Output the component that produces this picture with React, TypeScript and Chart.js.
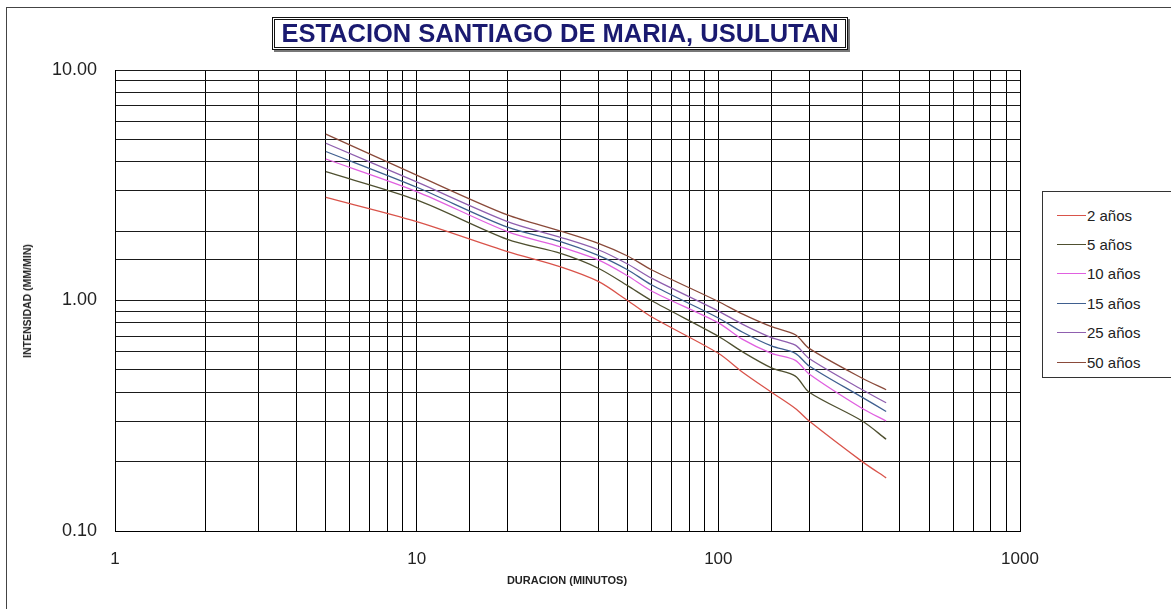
import React, { useEffect, useRef } from "react";
import { Chart, registerables } from "chart.js";

Chart.register(...registerables);

const durations = [5, 10, 20, 30, 40, 50, 60, 100, 120, 150, 180, 200, 300, 360];

const serieLabels = ["2 años", "5 años", "10 años", "15 años", "25 años", "50 años"];
const serieColors = ["#d9534a", "#4f5030", "#e060e0", "#3f5f8f", "#8f5faf", "#8a4a3a"];

const t2 = [2.8, 2.2, 1.63, 1.4, 1.21, 1.0, 0.85, 0.59, 0.49, 0.4, 0.34, 0.3, 0.2, 0.17];
const t5 = [3.62, 2.73, 1.84, 1.6, 1.38, 1.16, 1.0, 0.7, 0.6, 0.51, 0.47, 0.4, 0.3, 0.25];
const t10 = [4.11, 2.97, 1.99, 1.71, 1.5, 1.28, 1.1, 0.8, 0.68, 0.59, 0.55, 0.48, 0.34, 0.3];
const t15 = [4.43, 3.1, 2.08, 1.8, 1.57, 1.36, 1.17, 0.84, 0.73, 0.635, 0.59, 0.52, 0.38, 0.33];
const t25 = [4.81, 3.27, 2.2, 1.88, 1.66, 1.44, 1.25, 0.9, 0.79, 0.69, 0.64, 0.56, 0.41, 0.36];
const t50 = [5.27, 3.5, 2.35, 2.0, 1.77, 1.56, 1.36, 0.99, 0.875, 0.77, 0.71, 0.62, 0.46, 0.41];

const serieValues = [t2, t5, t10, t15, t25, t50];

const titleText = "ESTACION SANTIAGO DE MARIA, USULUTAN";
const yTitle = "INTENSIDAD (MM/MIN)";
const xTitle = "DURACION (MINUTOS)";

const FONT = '"Liberation Sans", Arial, Helvetica, sans-serif';

function isPow10(v: number) {
  const l = Math.log10(v);
  return Math.abs(l - Math.round(l)) < 1e-9;
}

export default function App() {
  const ref = useRef<HTMLCanvasElement | null>(null);

  useEffect(() => {
    if (!ref.current) return;
    const chart = new Chart(ref.current, {
      type: "line",
      data: {
        datasets: serieLabels.map((label, k) => ({
          label,
          data: durations.map((d, i) => ({ x: d, y: serieValues[k][i] })),
          borderColor: serieColors[k],
          backgroundColor: serieColors[k],
          borderWidth: 1.3,
          pointRadius: 0,
          fill: false,
          tension: 0.3,
        })),
      },
      options: {
        animation: false,
        responsive: false,
        devicePixelRatio: 1,
        layout: { padding: { top: 70, right: 151, left: 0, bottom: 0 } },
        plugins: {
          legend: { display: false },
          tooltip: { enabled: false },
        },
        scales: {
          x: {
            type: "logarithmic",
            min: 1,
            max: 1000,
            grid: { color: "#000", lineWidth: 1, drawTicks: false },
            border: { display: true, color: "#000" },
            ticks: {
              autoSkip: false,
              maxRotation: 0,
              padding: 18,
              color: "#222",
              font: { family: FONT, size: 17 },
              callback: (v: any) => (isPow10(Number(v)) ? String(Math.round(Number(v))) : ""),
            },
            afterFit: (s: any) => {
              s.height = 78;
            },
          },
          y: {
            type: "logarithmic",
            min: 0.1,
            max: 10,
            grid: { color: "#1a1a1a", lineWidth: 1, drawTicks: false },
            border: { display: true, color: "#000" },
            ticks: {
              autoSkip: false,
              padding: 18,
              color: "#222",
              font: { family: FONT, size: 18 },
              callback: (v: any) => (isPow10(Number(v)) ? Number(v).toFixed(2) : ""),
            },
            afterFit: (s: any) => {
              s.width = 115;
            },
          },
        },
      },
    });
    return () => chart.destroy();
  }, []);

  const rowTop = 205;
  const rowGap = 29.4;

  return (
    <div
      style={{
        position: "fixed",
        left: 0,
        top: 0,
        width: 1171,
        height: 609,
        overflow: "hidden",
        background: "#fff",
        fontFamily: FONT,
      }}
    >
      <div
        style={{
          position: "absolute",
          left: 6,
          top: 7,
          width: 1300,
          height: 800,
          border: "1px solid #444",
        }}
      />
      <canvas ref={ref} width={1171} height={609} style={{ position: "absolute", left: 0, top: 0 }} />
      <div
        style={{
          position: "absolute",
          left: 272,
          top: 17,
          width: 570,
          height: 27,
          border: "3px double #111",
          boxShadow: "2px 2px 0 #777",
          background: "#fff",
          color: "#1a1a70",
          fontWeight: "bold",
          fontSize: 25.5,
          lineHeight: "27px",
          textAlign: "center",
          whiteSpace: "nowrap",
        }}
      >
        {titleText}
      </div>
      <div
        style={{
          position: "absolute",
          left: 27,
          top: 301,
          transform: "translate(-50%, -50%) rotate(-90deg)",
          fontWeight: "bold",
          fontSize: 10.5,
          color: "#222",
          whiteSpace: "nowrap",
        }}
      >
        {yTitle}
      </div>
      <div
        style={{
          position: "absolute",
          left: 567,
          top: 580,
          transform: "translate(-50%, -50%)",
          fontWeight: "bold",
          fontSize: 11,
          color: "#222",
          whiteSpace: "nowrap",
        }}
      >
        {xTitle}
      </div>
      <div
        style={{
          position: "absolute",
          left: 1042,
          top: 191,
          width: 140,
          height: 185,
          border: "1px solid #333",
          background: "#fff",
        }}
      />
      {serieLabels.map((label, k) => (
        <div
          key={label}
          style={{
            position: "absolute",
            left: 1057,
            top: rowTop + k * rowGap,
            height: 20,
            display: "flex",
            alignItems: "center",
            fontSize: 15,
            color: "#222",
            whiteSpace: "nowrap",
          }}
        >
          <span
            style={{
              display: "inline-block",
              width: 29,
              height: 0,
              borderTop: `1px solid ${serieColors[k]}`,
              marginRight: 1,
            }}
          />
          {label}
        </div>
      ))}
    </div>
  );
}
